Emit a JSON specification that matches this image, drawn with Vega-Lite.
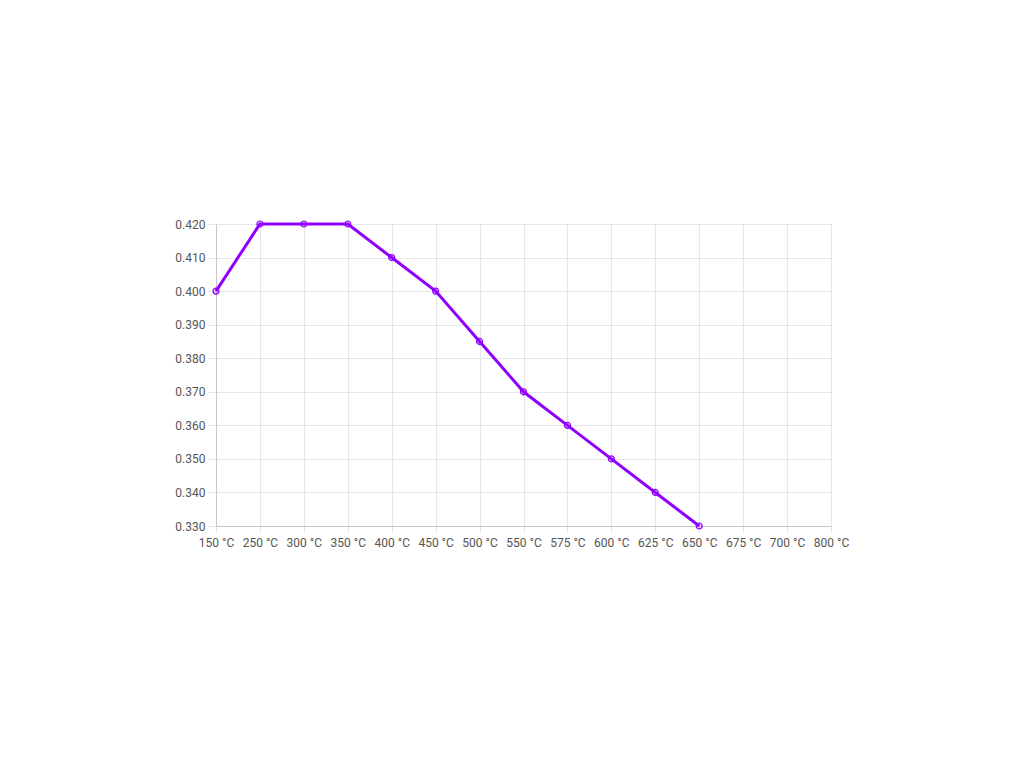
{
  "$schema": "https://vega.github.io/schema/vega-lite/v6.json",
  "autosize": "none",
  "width": 615,
  "height": 302,
  "padding": {"left": 216, "top": 224, "right": 193, "bottom": 242},
  "data": {
    "values": [
      {"temp": "150 °C", "value": 0.4},
      {"temp": "250 °C", "value": 0.42},
      {"temp": "300 °C", "value": 0.42},
      {"temp": "350 °C", "value": 0.42},
      {"temp": "400 °C", "value": 0.41},
      {"temp": "450 °C", "value": 0.4},
      {"temp": "500 °C", "value": 0.385},
      {"temp": "550 °C", "value": 0.37},
      {"temp": "575 °C", "value": 0.36},
      {"temp": "600 °C", "value": 0.35},
      {"temp": "625 °C", "value": 0.34},
      {"temp": "650 °C", "value": 0.33}
    ]
  },
  "encoding": {
    "x": {
      "field": "temp",
      "type": "ordinal",
      "sort": null,
      "title": null,
      "scale": {
        "type": "point",
        "padding": 0,
        "domain": ["150 °C", "250 °C", "300 °C", "350 °C", "400 °C", "450 °C", "500 °C", "550 °C", "575 °C", "600 °C", "625 °C", "650 °C", "675 °C", "700 °C", "800 °C"]
      },
      "axis": {"labelAngle": 0, "grid": true, "tickSize": 7, "labelPadding": 4}
    },
    "y": {
      "field": "value",
      "type": "quantitative",
      "title": null,
      "scale": {"domain": [0.33, 0.42], "nice": false, "zero": false},
      "axis": {"format": ".3f", "values": [0.33, 0.34, 0.35, 0.36, 0.37, 0.38, 0.39, 0.4, 0.41, 0.42], "tickSize": 8, "labelPadding": 3}
    }
  },
  "layer": [
    {"mark": {"type": "line", "color": "#8f00ff", "strokeWidth": 3}},
    {"mark": {"type": "point", "shape": "circle", "filled": true, "size": 36, "fill": "#8f00ff", "fillOpacity": 0.2, "stroke": "#8f00ff", "strokeWidth": 1.2}}
  ],
  "config": {
    "view": {"stroke": "#e6e6e6"},
    "font": "Roboto",
    "axis": {
      "gridColor": "#e6e6e6",
      "tickColor": "#e6e6e6",
      "domainColor": "#c8c8c8",
      "labelColor": "#555555",
      "labelFontSize": 12,
      "labelFont": "Roboto"
    }
  }
}
